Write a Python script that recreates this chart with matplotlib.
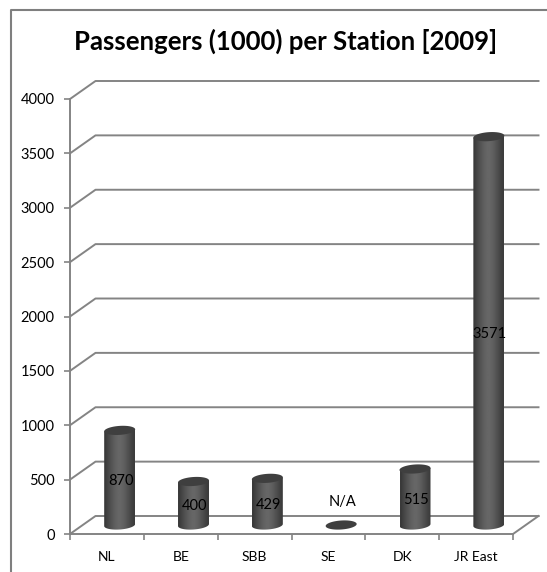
# Passengers per station, fake 3D cylinder chart
import numpy as np
import matplotlib
matplotlib.use('Agg')
import matplotlib.pyplot as plt
from matplotlib.lines import Line2D
from matplotlib.patches import PathPatch, Polygon
from matplotlib.path import Path

# Data
stations = ['NL', 'BE', 'SBB', 'SE', 'DK', 'JR East']
passengers = [870, 400, 429, 0, 515, 3571]
bar_labels = ['870', '400', '429', 'N/A', '515', '3571']
y_ticks = [0, 500, 1000, 1500, 2000, 2500, 3000, 3500, 4000]
title = 'Passengers (1000) per Station [2009]'

W, H = 547, 572
GREY = '#848484'

plt.rcParams['font.family'] = ['Lato', 'DejaVu Sans']
fig = plt.figure(figsize=(W / 100, H / 100), dpi=100)
# front plane of the chart, in pixels: x 70-513, y 99-534
ax = fig.add_axes([70 / W, (H - 534) / H, 443 / W, 435 / H])
ax.set_xlim(0, 6)
ax.set_ylim(0, 4000)

px_x = 6 / 443      # data units per pixel
px_y = 4000 / 435
depth_x = 25.5 * px_x
depth_y = 18 * px_y

# Walls and gridlines
for t in y_ticks:
    ax.plot([0, depth_x, 6 + depth_x], [t, t + depth_y, t + depth_y],
            color=GREY, lw=1.4, clip_on=False, zorder=1)
ax.plot([6, 6 + depth_x], [0, depth_y], color=GREY, lw=1.4, clip_on=False, zorder=1)

# Cylinders
bar_w = 31 * px_x
cap_h = 9 * px_y
skew = 1 * px_y   # the ellipses lean up to the right
shade = np.array([0.23, 0.27, 0.31, 0.35, 0.38, 0.40, 0.40, 0.38, 0.35, 0.31, 0.27, 0.24])
theta = np.linspace(0, 2 * np.pi, 80)
for i, v in enumerate(passengers):
    cx = i + 0.5 + depth_x / 2
    base = depth_y / 2
    top = base + v
    ex = bar_w / 2 * np.cos(theta)
    ey = cap_h / 2 * np.sin(theta) + skew * np.cos(theta)
    if v > 0:
        # body outline: lower half of the base ellipse, then up to the top
        low = theta >= np.pi
        xs = cx + ex[low]
        ys = base + ey[low]
        verts = list(zip(xs, ys)) + [(xs[-1], top + skew), (xs[0], top - skew), (xs[0], ys[0])]
        outline = PathPatch(Path(verts), fc='none', ec='none', transform=ax.transData)
        ax.add_patch(outline)
        body = ax.imshow(shade[np.newaxis, :], cmap='gray', vmin=0, vmax=1, aspect='auto',
                         extent=(cx - bar_w / 2, cx + bar_w / 2, base - cap_h, top + skew),
                         interpolation='bilinear', zorder=3)
        body.set_clip_path(outline)
    ax.add_patch(Polygon(np.column_stack([cx + ex, top + ey]), fc='#3f3f3f', ec='none',
                         zorder=4, clip_on=False))
    # value labels
    off = 23 if v == 0 else -3
    ax.annotate(bar_labels[i], (cx, base + v / 2), xytext=(1, off), textcoords='offset pixels',
                ha='center', va='center', fontsize=10.5, color='black', zorder=5)

ax.set_xlim(0, 6)
ax.set_ylim(0, 4000)

# Axes
for s in ['top', 'right']:
    ax.spines[s].set_visible(False)
for s in ['left', 'bottom']:
    ax.spines[s].set_color(GREY)
    ax.spines[s].set_linewidth(1.4)
ax.patch.set_alpha(0)
ax.set_yticks(y_ticks)
ax.set_xticks(range(7))
ax.set_xticklabels([])
ax.set_xticks(np.arange(6) + 0.5, minor=True)
ax.set_xticklabels(stations, minor=True)
ax.tick_params(axis='both', which='major', color=GREY, width=1.2, length=4, labelsize=10.5)
ax.tick_params(axis='y', which='major', pad=7)
ax.tick_params(axis='x', which='minor', length=0, pad=12, labelsize=10)

# Title and chart frame
fig.text(286 / W, 1 - 41 / H, title, ha='center', va='center', fontsize=18.5, fontweight='bold')
fig.add_artist(Line2D([11 / W, 11 / W, 1], [0, 1 - 10 / H, 1 - 10 / H], color='#7f7f7f', lw=1.5))

fig.savefig('out.png', dpi=100)
